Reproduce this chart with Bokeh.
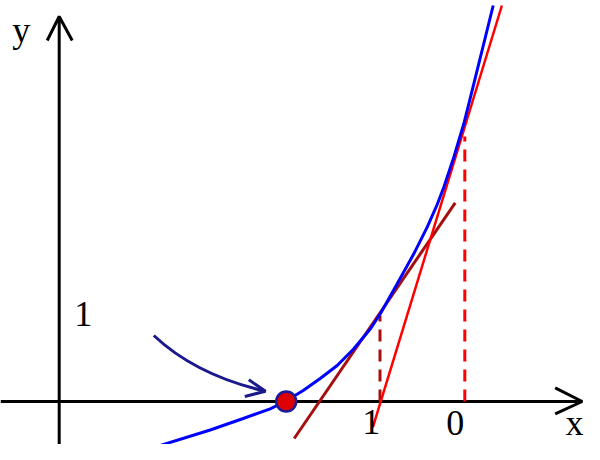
from bokeh.plotting import figure
from bokeh.models import ColumnDataSource
from bokeh.core.properties import value
from bokeh.embed import file_html
from bokeh.resources import INLINE

# curve f(x) (origin at the axes crossing, 1 unit = 1 px)
curve_x = [56, 101, 151, 184, 211, 226, 244, 261, 278, 294.6, 311.3, 321.3, 338,
           354.6, 368, 378, 384.6, 394.6, 404.6, 414.6, 434]
curve_y = [-55.5, -44, -28.5, -17, -7.3, 0, 11, 23, 36, 52.7, 72.7, 88, 117.7,
           147.7, 174.3, 197, 214.3, 244.3, 277.7, 317.7, 396]

# tangent at x0 (bright red) and at x1 (dark red)
tan0_x = [313.7, 442.7]
tan0_y = [-25.7, 396]
tan1_x = [235, 396]
tan1_y = [-37, 198.7]

# iterates x0, x1 and their function values
iter_x = [405.6, 320.8]
iter_fx = [265, 86]

# root
root_x = [227]
root_y = [0]

# axes with arrow heads
xaxis_x = [-58.7, 523]
xaxis_y = [0, 0]
xhead_x = [496, 523, 496]
xhead_y = [13.7, 0, -12.3]
yaxis_x = [0, 0]
yaxis_y = [-43, 385]
yhead_x = [-12, 0, 13]
yhead_y = [361, 385, 361]

# pointer arrow to the root
ptr_start = (94.6, 66)
ptr_ctrl = (136.9, 26.2)
ptr_tip = (206.3, 10.3)
ptr_head_x = [189.6, 206.3, 185.6]
ptr_head_y = [21.7, 10.3, 5]

labels = ["y", "x", "1", "1", "0"]
label_x = [-38, 515.3, 24, 312, 396]
label_y = [372, -21, 88, -20, -21]

p = figure(width=584, height=444, x_range=(-58.7, 525.3), y_range=(-43, 401),
           output_backend="svg", toolbar_location=None, min_border=0)
p.axis.visible = False
p.grid.visible = False
p.outline_line_color = None
p.background_fill_color = "white"

# axes
p.line(xaxis_x, xaxis_y, line_color="black", line_width=3)
p.line(xhead_x, xhead_y, line_color="black", line_width=3)
p.line(yaxis_x, yaxis_y, line_color="black", line_width=3)
p.line(yhead_x, yhead_y, line_color="black", line_width=3)

# dashed verticals
p.segment(x0=[iter_x[1]], y0=[0], x1=[iter_x[1]], y1=[iter_fx[1]],
          line_color="#a50f0f", line_width=3, line_dash="12 8")
p.segment(x0=[iter_x[0]], y0=[0], x1=[iter_x[0]], y1=[iter_fx[0]],
          line_color="#ff0000", line_width=3, line_dash="12 8")

# tangents
p.line(tan1_x, tan1_y, line_color="#a50f0f", line_width=3)
p.line(tan0_x, tan0_y, line_color="#ff0000", line_width=2.5)

# the function
p.line(curve_x, curve_y, line_color="#0000ff", line_width=3)

# pointer arrow
p.quadratic(x0=[ptr_start[0]], y0=[ptr_start[1]], x1=[ptr_tip[0]], y1=[ptr_tip[1]],
            cx=[ptr_ctrl[0]], cy=[ptr_ctrl[1]], line_color="#1a1a8c", line_width=3)
p.line(ptr_head_x, ptr_head_y, line_color="#1a1a8c", line_width=3)

# root marker
p.scatter(root_x, root_y, size=20, fill_color="#dd0000",
          line_color="#1a1a9a", line_width=2.5)

src = ColumnDataSource(dict(x=label_x, y=label_y, t=labels))
p.text(x="x", y="y", text="t", source=src, text_font=value("Liberation Serif"),
       text_font_size="36px", text_align="center", text_baseline="alphabetic",
       text_color="black")

open("out.html", "w").write(file_html(p, INLINE))
